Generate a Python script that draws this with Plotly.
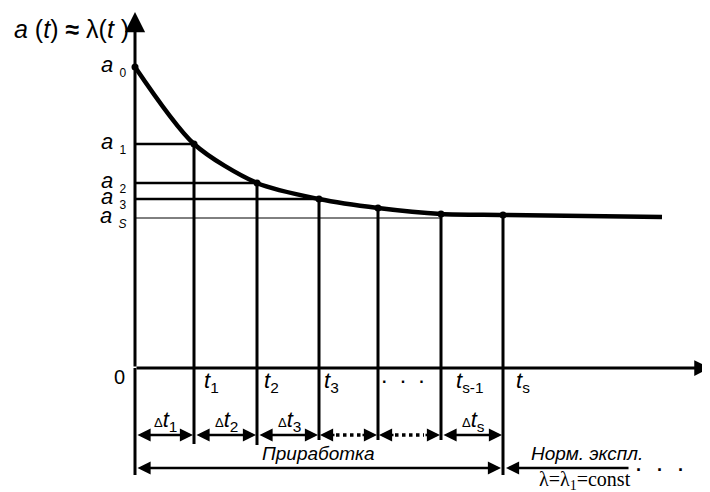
import plotly.graph_objects as go

# ---- diagram data (diagram units; rate axis measured downward) ----
t_nodes = [135, 194, 257, 319, 378, 441, 503]      # t0 .. ts
a_nodes = [67, 144, 183, 199, 208, 214, 215]       # a(t) at the nodes
t_end, a_end = 662, 217                            # curve continues (normal operation)

level_names = ["0", "1", "2", "3", "S"]
level_values = [67, 144, 183, 199, 218]
level_ends = [None, 194, 257, 319, 441]
level_widths = [0, 2.5, 2.5, 2.5, 1]

t_labels = ["1", "2", "3", None, "s-1", "s"]
t_label_dx = [8, 5, 3, 0, 13, 11]
dt_labels = ["1", "2", "3", None, None, "s"]
dotted_gaps = [3, 4]          # index of intervals with dotted arrows

zero_level = 368
x_axis_end = 710
y_axis_top = 12
y_axis_bottom = 475
node_bottoms = [444, 445, 440, 440, 440, 475]
arrow_row = 435
dt_row = 421
phase_row = 468
text_row = 453

FONT = "Liberation Sans, Arial, sans-serif"
SERIF = "Liberation Serif, Times New Roman, serif"
K = "black"
PAGE_MARGIN = 8   # default body margin of the html page

fig = go.Figure()

# curve a(t)
fig.add_trace(go.Scatter(
    x=t_nodes + [t_end], y=a_nodes + [a_end], mode="lines",
    line=dict(color=K, width=4.5, shape="spline", smoothing=0.8),
    hoverinfo="skip", showlegend=False))
fig.add_trace(go.Scatter(
    x=t_nodes, y=a_nodes, mode="markers",
    marker=dict(color=K, size=7), hoverinfo="skip", showlegend=False))

shapes = []
for val, end, w in zip(level_values, level_ends, level_widths):
    if end is not None:
        shapes.append(dict(type="line", xref="x", yref="y", x0=t_nodes[0], x1=end,
                           y0=val, y1=val, line=dict(color=K, width=w)))
for tx, ay, yb in zip(t_nodes[1:], a_nodes[1:], node_bottoms):
    shapes.append(dict(type="line", xref="x", yref="y", x0=tx, x1=tx, y0=ay, y1=yb,
                       line=dict(color=K, width=3)))
shapes.append(dict(type="line", xref="x", yref="y", x0=t_nodes[0], x1=t_nodes[0],
                   y0=zero_level, y1=y_axis_bottom, line=dict(color=K, width=3)))
for gi in dotted_gaps:
    xa, xb = t_nodes[gi], t_nodes[gi + 1]
    shapes.append(dict(type="line", xref="x", yref="y", x0=xa + 17, x1=xb - 17,
                       y0=arrow_row, y1=arrow_row, line=dict(color=K, width=3.5, dash="dot")))

ann = []

def arrow(xh, yh, xt, yt, w=2.5, size=1.0, side="end"):
    ann.append(dict(x=xh, y=yh, ax=xt, ay=yt, xref="x", yref="y", axref="x", ayref="y",
                    text="", showarrow=True, arrowhead=2, arrowsize=size, arrowwidth=w,
                    arrowside=side, arrowcolor=K, startarrowhead=2, startarrowsize=size))

def text(x, y, s, size=18, xa="center", font=FONT):
    ann.append(dict(x=x, y=y, xref="x", yref="y", text=s, showarrow=False,
                    xanchor=xa, yanchor="middle", font=dict(family=font, size=size, color=K)))

# main axes
arrow(t_nodes[0], y_axis_top, t_nodes[0], zero_level, w=3, size=1.35)
arrow(x_axis_end, zero_level, t_nodes[0], zero_level, w=3, size=1.05)

# interval arrows
for i in range(len(t_nodes) - 1):
    xa, xb = t_nodes[i], t_nodes[i + 1]
    if i in dotted_gaps:
        arrow(xa + 1, arrow_row, xa + 17, arrow_row, w=2.5, size=1.05)
        arrow(xb - 1, arrow_row, xb - 17, arrow_row, w=2.5, size=1.05)
    else:
        arrow(xb - 1, arrow_row, xa + 1, arrow_row, w=2.5, size=1.05, side="end+start")
    if dt_labels[i]:
        text((xa + xb) / 2 + 1, dt_row,
             "<span style='font-size:13px'>Δ</span><i>t</i><sub>" + dt_labels[i] + "</sub>", 22)

# phase arrows
arrow(t_nodes[-1] - 2, phase_row, t_nodes[0] + 1, phase_row, w=2.5, size=1.05, side="end+start")
arrow(t_nodes[-1] + 3, phase_row, 630, phase_row, w=2.5, size=1.05)
text(660, phase_row + 2, "<b>·&nbsp;&nbsp;&nbsp;·&nbsp;&nbsp;&nbsp;·</b>", 18)

text(318, text_row, "<i>Приработка</i>", 19)
text(587, text_row, "<i>Норм. экспл.</i>", 19)
text(585, 480, "λ=λ<sub>1</sub>=const", 20, font=SERIF)

# axis labels
text(131, 29, "<i>a</i> (<i>t</i>) <b>≈</b> λ(<i>t</i> )", 25, xa="right")
text(127, zero_level + 9, "0", 20, xa="right")
for name, val in zip(level_names, level_values):
    sub = "<i>S</i>" if name == "S" else name
    text(128, val - 1, "<i>a</i> <sub><span style='font-size:12px'>" + sub + "</span></sub>",
         22, xa="right")
for tx, lab, dx in zip(t_nodes[1:], t_labels, t_label_dx):
    if lab is None:
        text((t_nodes[4] + t_nodes[5]) / 2 - 6, zero_level + 13,
             "<b>·&nbsp;&nbsp;&nbsp;·&nbsp;&nbsp;&nbsp;·</b>", 16)
    else:
        text(tx + dx, zero_level + 14, "<i>t</i><sub>" + lab + "</sub>", 22, xa="left")

fig.update_layout(
    width=710 - PAGE_MARGIN, height=492 - PAGE_MARGIN,
    margin=dict(l=0, r=0, t=0, b=0),
    paper_bgcolor="white", plot_bgcolor="white",
    xaxis=dict(range=[PAGE_MARGIN, 710], visible=False, fixedrange=True),
    yaxis=dict(range=[492, PAGE_MARGIN], visible=False, fixedrange=True),
    shapes=shapes, annotations=ann, showlegend=False)

fig.write_html("out.html")
